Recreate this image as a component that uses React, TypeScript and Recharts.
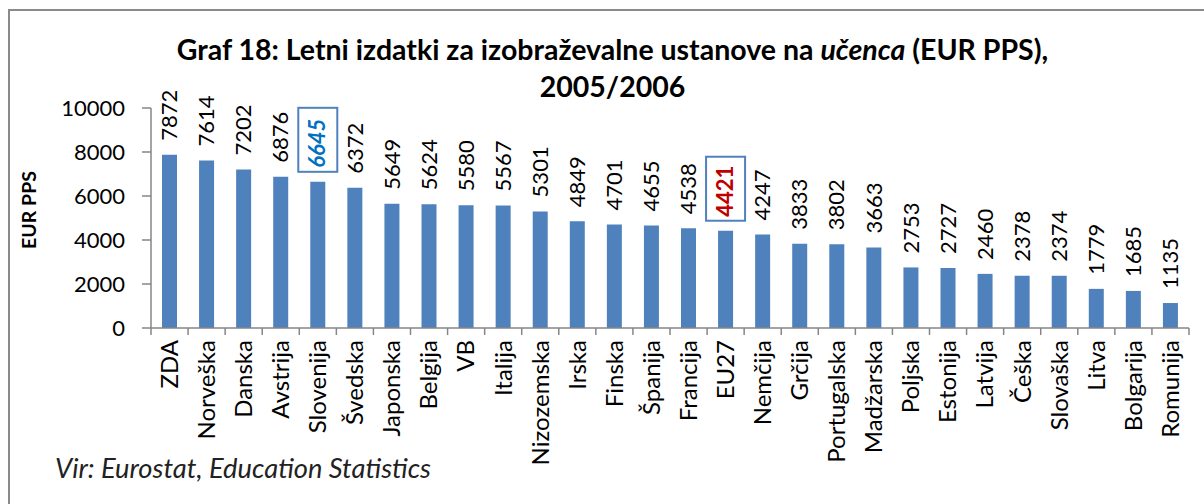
import React from 'react'
import { BarChart, Bar, XAxis, YAxis, LabelList } from 'recharts'

// Values (EUR PPS per pupil, 2005/2006)
const countries = [
  'ZDA', 'Norveška', 'Danska', 'Avstrija', 'Slovenija', 'Švedska', 'Japonska', 'Belgija',
  'VB', 'Italija', 'Nizozemska', 'Irska', 'Finska', 'Španija', 'Francija', 'EU27',
  'Nemčija', 'Grčija', 'Portugalska', 'Madžarska', 'Poljska', 'Estonija', 'Latvija',
  'Češka', 'Slovaška', 'Litva', 'Bolgarija', 'Romunija',
]
const spending = [
  7872, 7614, 7202, 6876, 6645, 6372, 5649, 5624, 5580, 5567, 5301, 4849, 4701, 4655,
  4538, 4421, 4247, 3833, 3802, 3663, 2753, 2727, 2460, 2378, 2374, 1779, 1685, 1135,
]
const yTicks = [0, 2000, 4000, 6000, 8000, 10000]

// boxed labels: Slovenia in blue italic, EU average in red
const highlights: Record<string, { color: string; italic: boolean }> = {
  Slovenija: { color: '#0070C0', italic: true },
  EU27: { color: '#C00000', italic: false },
}

const data = countries.map((name, i) => ({ name, value: spending[i] }))

const FONT = 'Lato, "Open Sans", sans-serif'
const BAR = '#4F81BD'
const AXIS = '#868686'

function ValueLabel(props: any) {
  const { x, y, width, value, index } = props
  const cx = x + width / 2
  const bottom = y - 14
  const hl = highlights[countries[index]]
  return (
    <g>
      {hl && (
        <rect x={cx - 19.5} y={bottom - 60} width={39} height={64} fill="none" stroke={BAR} strokeWidth={2} />
      )}
      <text
        x={cx}
        y={bottom}
        transform={`rotate(-90, ${cx}, ${bottom})`}
        textAnchor="start"
        dy="0.35em"
        fontFamily={FONT}
        fontSize={22}
        fontWeight={hl ? 700 : 400}
        fontStyle={hl && hl.italic ? 'italic' : 'normal'}
        fill={hl ? hl.color : '#000'}
      >
        {value}
      </text>
    </g>
  )
}

// category label plus Excel-style tick marks sitting between the bars
function CountryTick(props: any) {
  const { x, y, payload, index, visibleTicksCount, width } = props
  const half = payload.offset || width / visibleTicksCount / 2
  const ty = y + 12
  return (
    <g>
      <line x1={x - half} x2={x - half} y1={y} y2={y + 7} stroke={AXIS} strokeWidth={1.5} />
      {index === visibleTicksCount - 1 && (
        <line x1={x + half} x2={x + half} y1={y} y2={y + 7} stroke={AXIS} strokeWidth={1.5} />
      )}
      <text
        x={x}
        y={ty}
        transform={`rotate(-90, ${x}, ${ty})`}
        textAnchor="end"
        dy="0.35em"
        fontFamily={FONT}
        fontSize={24}
        fill="#000"
      >
        {payload.value}
      </text>
    </g>
  )
}

export default function App() {
  return (
    <div style={{ position: 'absolute', left: 0, top: 0, width: 1204, height: 504, overflow: 'hidden', background: '#fff' }}>
      <div style={{ position: 'absolute', left: 8, top: 9, width: 1400, height: 700, borderLeft: '2px solid #8a8a8a', borderTop: '2px solid #8a8a8a' }} />
      <div style={{ position: 'absolute', left: 0, width: 1225, top: 31, textAlign: 'center', fontFamily: FONT, fontWeight: 700, fontSize: 28.5, lineHeight: '37px', color: '#000' }}>
        Graf 18: Letni izdatki za izobraževalne ustanove na <i>učenca</i> (EUR PPS),
        <br />
        2005/2006
      </div>
      <div style={{ position: 'absolute', left: 28, top: 210, transform: 'translate(-50%, -50%) rotate(-90deg)', whiteSpace: 'nowrap', fontFamily: FONT, fontWeight: 700, fontSize: 19.5, color: '#000' }}>
        EUR PPS
      </div>
      <div style={{ position: 'absolute', left: 55, top: 451, whiteSpace: 'nowrap', fontFamily: FONT, fontStyle: 'italic', fontSize: 27.3, color: '#222' }}>
        Vir: Eurostat, Education Statistics
      </div>
      <div style={{ position: 'absolute', left: 0, top: 0 }}>
        <BarChart width={1204} height={504} data={data} margin={{ top: 108, right: 15, left: 61, bottom: 0 }}>
          <XAxis
            dataKey="name"
            interval={0}
            height={176}
            axisLine={{ stroke: AXIS, strokeWidth: 1.5 }}
            tickLine={false}
            tickSize={0}
            tickMargin={0}
            tick={<CountryTick />}
          />
          <YAxis
            width={90}
            domain={[0, 10000]}
            ticks={yTicks}
            interval={0}
            tickSize={9}
            tickMargin={17}
            axisLine={{ stroke: AXIS, strokeWidth: 1.5 }}
            tickLine={{ stroke: AXIS, strokeWidth: 1.5 }}
            tick={{ fill: '#000', fontFamily: FONT, fontSize: 22 }}
          />
          <Bar dataKey="value" fill={BAR} barSize={15} isAnimationActive={false}>
            <LabelList dataKey="value" content={<ValueLabel />} />
          </Bar>
        </BarChart>
      </div>
    </div>
  )
}
